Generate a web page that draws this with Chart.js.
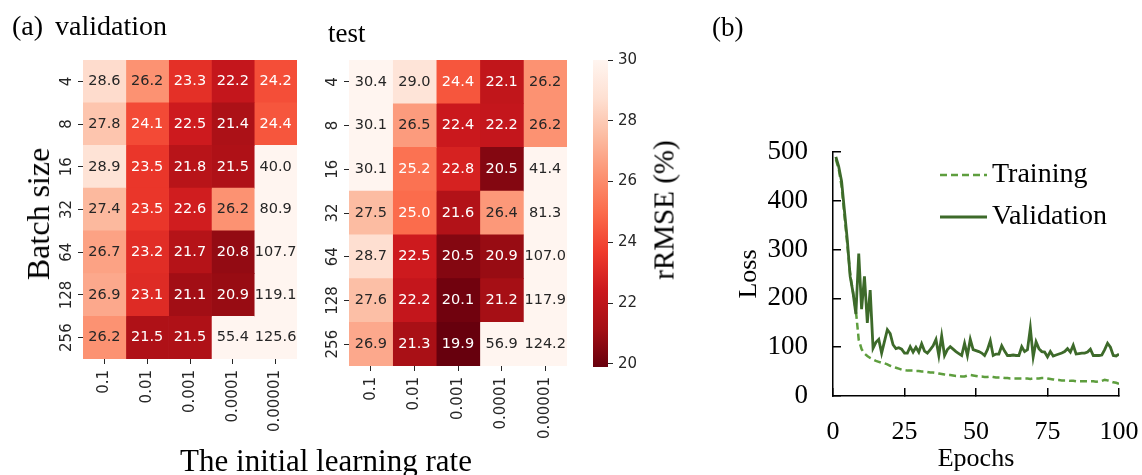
<!DOCTYPE html>
<html>
<head>
<meta charset="utf-8">
<script src="https://cdn.jsdelivr.net/npm/chart.js@4"></script>
<style>
  body { margin: 0; background: #fff; }
  #wrap { position: relative; width: 1142px; height: 475px; overflow: hidden; }
  #wrap canvas { position: absolute; left: 0; top: 0; }
  .t { position: absolute; font-family: 'Liberation Serif', 'Times New Roman', serif; line-height: 1; white-space: nowrap; color: #000; }
  .rot { transform: translate(-50%, -50%) rotate(-90deg); }
</style>
</head>
<body>
<div id="wrap">
  <canvas id="valMap" width="1142" height="475"></canvas>
  <canvas id="testMap" width="1142" height="475"></canvas>
  <canvas id="colorBar" width="1142" height="475"></canvas>
  <canvas id="lossChart" width="1142" height="475"></canvas>
  <div class="t" style="left:12px;top:12px;font-size:28px">(a)</div>
  <div class="t" style="left:55px;top:12px;font-size:28px">validation</div>
  <div class="t" style="left:328px;top:20px;font-size:27px">test</div>
  <div class="t" style="left:712px;top:14px;font-size:27px">(b)</div>
  <div class="t rot" style="left:38px;top:214px;font-size:32px">Batch size</div>
  <div class="t" style="left:326px;top:445px;font-size:31px;transform:translateX(-50%)">The initial learning rate</div>
  <div class="t rot" style="left:664px;top:210px;font-size:29px">rRMSE (%)</div>
</div>
<script>
// heatmap data: rows = batch size, cols = initial learning rate
const batchSizes = ['4', '8', '16', '32', '64', '128', '256'];
const learningRates = ['0.1', '0.01', '0.001', '0.0001', '0.00001'];

const valRMSE = [
  [28.6, 26.2, 23.3, 22.2, 24.2],
  [27.8, 24.1, 22.5, 21.4, 24.4],
  [28.9, 23.5, 21.8, 21.5, 40.0],
  [27.4, 23.5, 22.6, 26.2, 80.9],
  [26.7, 23.2, 21.7, 20.8, 107.7],
  [26.9, 23.1, 21.1, 20.9, 119.1],
  [26.2, 21.5, 21.5, 55.4, 125.6]
];
const testRMSE = [
  [30.4, 29.0, 24.4, 22.1, 26.2],
  [30.1, 26.5, 22.4, 22.2, 26.2],
  [30.1, 25.2, 22.8, 20.5, 41.4],
  [27.5, 25.0, 21.6, 26.4, 81.3],
  [28.7, 22.5, 20.5, 20.9, 107.0],
  [27.6, 22.2, 20.1, 21.2, 117.9],
  [26.9, 21.3, 19.9, 56.9, 124.2]
];

// colour bar
const cbMin = 19.9;
const cbMax = 30;
const cbTicks = [20, 22, 24, 26, 28, 30];

// loss curves (epochs 1..100)
const epochs = Array.from({ length: 100 }, (_, i) => i + 1);
const trainLoss = [
  485, 465, 430, 370, 310, 250, 212, 175, 115, 96,
  87, 82, 78, 75, 72, 70, 68, 67, 65, 62,
  60, 58, 56, 54, 53, 52, 52, 52, 51, 51,
  50, 50, 49, 48, 48, 47, 46, 45, 44, 43,
  43, 42, 41, 41, 40, 40, 42, 43, 42, 41,
  40, 40, 39, 39, 40, 39, 38, 38, 38, 37,
  37, 36, 36, 36, 36, 36, 36, 36, 35, 36,
  36, 36, 37, 37, 36, 35, 34, 33, 33, 32,
  32, 32, 31, 31, 30, 30, 30, 30, 30, 30,
  30, 29, 30, 31, 33, 32, 30, 28, 27, 25
];
const valLoss = [
  490, 470, 440, 380, 320, 245, 212, 168, 292, 178,
  245, 150, 217, 98, 110, 116, 88, 112, 136, 128,
  105, 97, 99, 96, 88, 88, 101, 90, 100, 90,
  107, 92, 88, 95, 103, 116, 83, 123, 83, 95,
  101, 96, 91, 87, 83, 108, 83, 116, 95, 93,
  91, 88, 83, 95, 113, 83, 86, 86, 103, 92,
  83, 83, 84, 83, 83, 101, 91, 95, 139, 80,
  111, 97, 91, 90, 80, 91, 82, 84, 86, 88,
  91, 97, 90, 104, 86, 87, 88, 88, 90, 96,
  83, 83, 83, 84, 95, 108, 100, 83, 82, 86
];

// matplotlib "Reds", used reversed
const reds = ['#fff5f0', '#fee0d2', '#fcbba1', '#fc9272', '#fb6a4a', '#ef3b2c', '#cb181d', '#a50f15', '#67000d'];
const redsRgb = reds.map(h => [1, 3, 5].map(i => parseInt(h.substr(i, 2), 16)));

function redsR(v) {
  let t = 1 - (v - cbMin) / (cbMax - cbMin);
  t = Math.min(1, Math.max(0, t));
  const p = t * 8;
  const i = Math.min(7, Math.floor(p));
  const f = p - i;
  const a = redsRgb[i], b = redsRgb[i + 1];
  return a.map((c, k) => Math.round(c + (b[k] - c) * f));
}

function luminance(rgb) {
  const l = rgb.map(c => {
    c /= 255;
    return c <= 0.03928 ? c / 12.92 : Math.pow((c + 0.055) / 1.055, 2.4);
  });
  return 0.2126 * l[0] + 0.7152 * l[1] + 0.0722 * l[2];
}

const tickFont = { family: 'DejaVu Sans', size: 15 };
const ink = '#262626';

// keep the plot area exactly where layout.padding puts it
function noEdgePadding(s) {
  s.paddingLeft = 0; s.paddingRight = 0; s.paddingTop = 0; s.paddingBottom = 0;
}

// annotate every cell with its value
const cellLabels = {
  id: 'cellLabels',
  afterDatasetsDraw(chart) {
    const ctx = chart.ctx;
    ctx.save();
    ctx.font = '14.5px "DejaVu Sans"';
    ctx.textAlign = 'center';
    ctx.textBaseline = 'middle';
    chart.data.datasets.forEach((ds, i) => {
      chart.getDatasetMeta(i).data.forEach((bar, j) => {
        const p = bar.getCenterPoint();
        ctx.fillStyle = ds.textColor[j];
        ctx.fillText(ds.values[j].toFixed(1), p.x, p.y);
      });
    });
    ctx.restore();
  }
};

function heatmap(id, grid, area) {
  const datasets = learningRates.map((lr, c) => {
    const values = grid.map(row => row[c]);
    const rgb = values.map(redsR);
    return {
      label: lr,
      data: values.map(() => 1),
      values: values,
      backgroundColor: rgb.map(c => 'rgb(' + c.join(',') + ')'),
      textColor: rgb.map(c => luminance(c) > 0.408 ? ink : '#ffffff'),
      barPercentage: 1,
      categoryPercentage: 1,
      borderWidth: 0
    };
  });

  new Chart(document.getElementById(id), {
    type: 'bar',
    data: { labels: batchSizes, datasets: datasets },
    options: {
      indexAxis: 'y',
      responsive: false,
      animation: false,
      events: [],
      layout: { padding: { left: area.left - 30, right: 1142 - area.right, top: area.top, bottom: 475 - area.bottom - 80 } },
      plugins: { legend: { display: false }, tooltip: { enabled: false } },
      scales: {
        x: {
          type: 'linear',
          stacked: true,
          min: 0,
          max: learningRates.length,
          afterBuildTicks: s => { s.ticks = learningRates.map((_, i) => ({ value: i + 0.5 })); },
          afterFit: s => { s.height = 80; noEdgePadding(s); },
          ticks: {
            callback: (v, i) => learningRates[i],
            autoSkip: false,
            minRotation: 90,
            maxRotation: 90,
            padding: 6,
            font: tickFont,
            color: ink
          },
          grid: { drawOnChartArea: false, tickLength: 5, color: ink },
          border: { display: false }
        },
        y: {
          type: 'category',
          stacked: true,
          afterFit: s => { s.width = 30; noEdgePadding(s); },
          ticks: {
            minRotation: 90,
            maxRotation: 90,
            crossAlign: 'center',
            padding: -3,
            font: tickFont,
            color: ink
          },
          grid: { offset: false, drawOnChartArea: false, tickLength: 5, color: ink },
          border: { display: false }
        }
      }
    },
    plugins: [cellLabels]
  });
}

heatmap('valMap', valRMSE, { left: 83, right: 297, top: 60, bottom: 359 });
heatmap('testMap', testRMSE, { left: 349, right: 567, top: 60, bottom: 366 });

// colour bar as one floating bar with the colormap gradient
new Chart(document.getElementById('colorBar'), {
  type: 'bar',
  data: {
    labels: ['rRMSE'],
    datasets: [{
      data: [[cbMin, cbMax]],
      barPercentage: 1,
      categoryPercentage: 1,
      borderWidth: 0,
      backgroundColor: ctx => {
        const chart = ctx.chart;
        if (!chart.chartArea) return reds[4];
        const ys = chart.scales.y;
        const g = chart.ctx.createLinearGradient(0, ys.getPixelForValue(cbMin), 0, ys.getPixelForValue(cbMax));
        reds.forEach((c, i) => g.addColorStop(i / 8, reds[8 - i]));
        return g;
      }
    }]
  },
  options: {
    responsive: false,
    animation: false,
    events: [],
    layout: { padding: { left: 593, right: 1142 - 608 - 40, top: 60, bottom: 475 - 367 } },
    plugins: { legend: { display: false }, tooltip: { enabled: false } },
    scales: {
      x: { display: false },
      y: {
        position: 'right',
        min: cbMin,
        max: cbMax,
        afterBuildTicks: s => { s.ticks = cbTicks.map(v => ({ value: v })); },
        afterFit: s => { s.width = 40; noEdgePadding(s); },
        ticks: { padding: 5, font: tickFont, color: ink },
        grid: { drawOnChartArea: false, tickLength: 5, color: ink },
        border: { display: false }
      }
    }
  }
});

// legend with line samples, drawn inside the plot
const lossLegend = {
  id: 'lossLegend',
  afterDraw(chart, args, opts) {
    const ctx = chart.ctx;
    ctx.save();
    ctx.font = opts.font;
    ctx.textBaseline = 'middle';
    ctx.fillStyle = '#000';
    chart.data.datasets.forEach((ds, k) => {
      const y = opts.y + k * opts.gap;
      ctx.strokeStyle = ds.borderColor;
      ctx.lineWidth = ds.borderWidth;
      ctx.setLineDash(ds.borderDash || []);
      ctx.beginPath();
      ctx.moveTo(opts.x, y);
      ctx.lineTo(opts.x + opts.len, y);
      ctx.stroke();
      ctx.setLineDash([]);
      ctx.fillText(ds.label, opts.x + opts.len + opts.textGap, y);
    });
    ctx.restore();
  }
};

const serif = 'Liberation Serif';

new Chart(document.getElementById('lossChart'), {
  type: 'line',
  data: {
    datasets: [
      {
        label: 'Training',
        data: epochs.map((e, i) => ({ x: e, y: trainLoss[i] })),
        borderColor: '#5e9e3e',
        borderDash: [7, 4],
        borderWidth: 2.5,
        pointRadius: 0,
        order: 1
      },
      {
        label: 'Validation',
        data: epochs.map((e, i) => ({ x: e, y: valLoss[i] })),
        borderColor: '#3d6a2a',
        borderWidth: 2.8,
        pointRadius: 0,
        order: 0
      }
    ]
  },
  options: {
    responsive: false,
    animation: false,
    events: [],
    layout: { padding: { left: 734, right: 1142 - 1119, top: 152, bottom: 0 } },
    plugins: {
      legend: { display: false },
      tooltip: { enabled: false },
      lossLegend: { x: 940, y: 175, gap: 42, len: 47, textGap: 5, font: '28px "Liberation Serif"' }
    },
    scales: {
      x: {
        type: 'linear',
        min: 0,
        max: 100,
        afterFit: s => { s.height = 79; noEdgePadding(s); },
        ticks: { stepSize: 25, maxRotation: 0, padding: 29, font: { family: serif, size: 26 }, color: '#000' },
        grid: { drawOnChartArea: false, tickLength: -8, color: '#000', lineWidth: 1.5 },
        border: { color: '#000', width: 1.5 },
        title: { display: true, text: 'Epochs', padding: 0, font: { family: serif, size: 26 }, color: '#000' }
      },
      y: {
        min: 0,
        max: 500,
        afterFit: s => { s.width = 833 - 734; noEdgePadding(s); },
        ticks: { stepSize: 100, padding: 33, font: { family: serif, size: 27 }, color: '#000' },
        grid: { drawOnChartArea: false, tickLength: -8, color: '#000', lineWidth: 1.5 },
        border: { color: '#000', width: 1.5 },
        title: { display: true, text: 'Loss', padding: 0, font: { family: serif, size: 26 }, color: '#000' }
      }
    }
  },
  plugins: [lossLegend]
});
</script>
</body>
</html>
